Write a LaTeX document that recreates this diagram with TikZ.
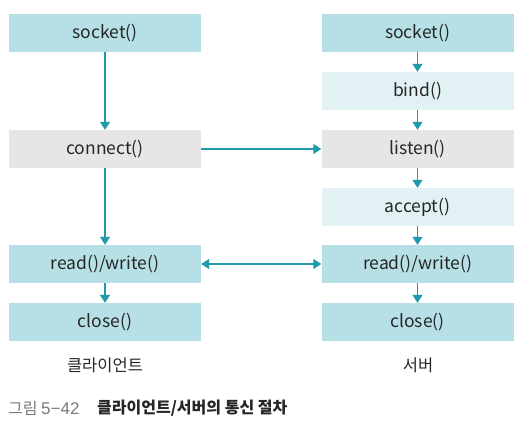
\documentclass[tikz,border=0pt]{standalone}
\usepackage{fontspec}
\setmainfont{Noto Sans CJK KR}
\newfontfamily\numfont{Liberation Sans}
\usetikzlibrary{arrows.meta}
\definecolor{tealbox}{HTML}{B7E0E6}
\definecolor{lightbox}{HTML}{E1F1F4}
\definecolor{graybox}{HTML}{E6E6E6}
\definecolor{arrowc}{HTML}{1E9AAB}
\definecolor{captiongray}{HTML}{7A7A7A}
\begin{document}
\begin{tikzpicture}[x=1pt,y=-1pt,
  box/.style={minimum width=192pt,minimum height=38pt,inner sep=0pt,draw=none,font=\fontsize{17.5}{20}\selectfont,text=black!85},
  tbox/.style={box,fill=tealbox},
  lbox/.style={box,fill=lightbox},
  gbox/.style={box,fill=graybox},
  flow/.style={draw=arrowc,line width=1.2pt,-{Triangle[length=8pt,width=10pt]}},
  flow2/.style={draw=arrowc,line width=1.2pt,{Triangle[length=8pt,width=10pt]}-{Triangle[length=8pt,width=10pt]}},
  lab/.style={font=\fontsize{16.5}{19}\selectfont,text=black!85}]
\useasboundingbox (0,0) rectangle (525,427);
\node[tbox] (csock) at (105,33) {socket()};
\node[gbox] (conn) at (105,149) {connect()};
\node[tbox] (crw) at (105,264) {read()/write()};
\node[tbox] (cclose) at (105,322) {close()};
\node[tbox] (ssock) at (417.5,33) {socket()};
\node[lbox] (bind) at (417.5,91) {bind()};
\node[gbox] (listen) at (417.5,149) {listen()};
\node[lbox] (accept) at (417.5,207) {accept()};
\node[tbox] (srw) at (417.5,264) {read()/write()};
\node[tbox] (sclose) at (417.5,322) {close()};
\draw[flow] (csock) -- (conn);
\draw[flow] (conn) -- (crw);
\draw[flow] (crw) -- (cclose);
\draw[flow] (ssock) -- (bind);
\draw[flow] (bind) -- (listen);
\draw[flow] (listen) -- (accept);
\draw[flow] (accept) -- (srw);
\draw[flow] (srw) -- (sclose);
\draw[flow] (conn) -- (listen);
\draw[flow2] (crw) -- (srw);
\node[lab] (clab) at (105,365) {클라이언트};
\node[lab] (slab) at (418,365) {서버};
\node[anchor=west,inner sep=0pt,font=\fontsize{16}{18}\selectfont,text=captiongray] (cap1) at (8,408) {그림 {\numfont\fontsize{17}{18}\selectfont 5−42}};
\node[anchor=west,inner sep=0pt,font=\fontsize{16}{18}\selectfont\bfseries,text=black!85] (cap2) at (97,408) {클라이언트/서버의 통신 절차};
\end{tikzpicture}
\end{document}
